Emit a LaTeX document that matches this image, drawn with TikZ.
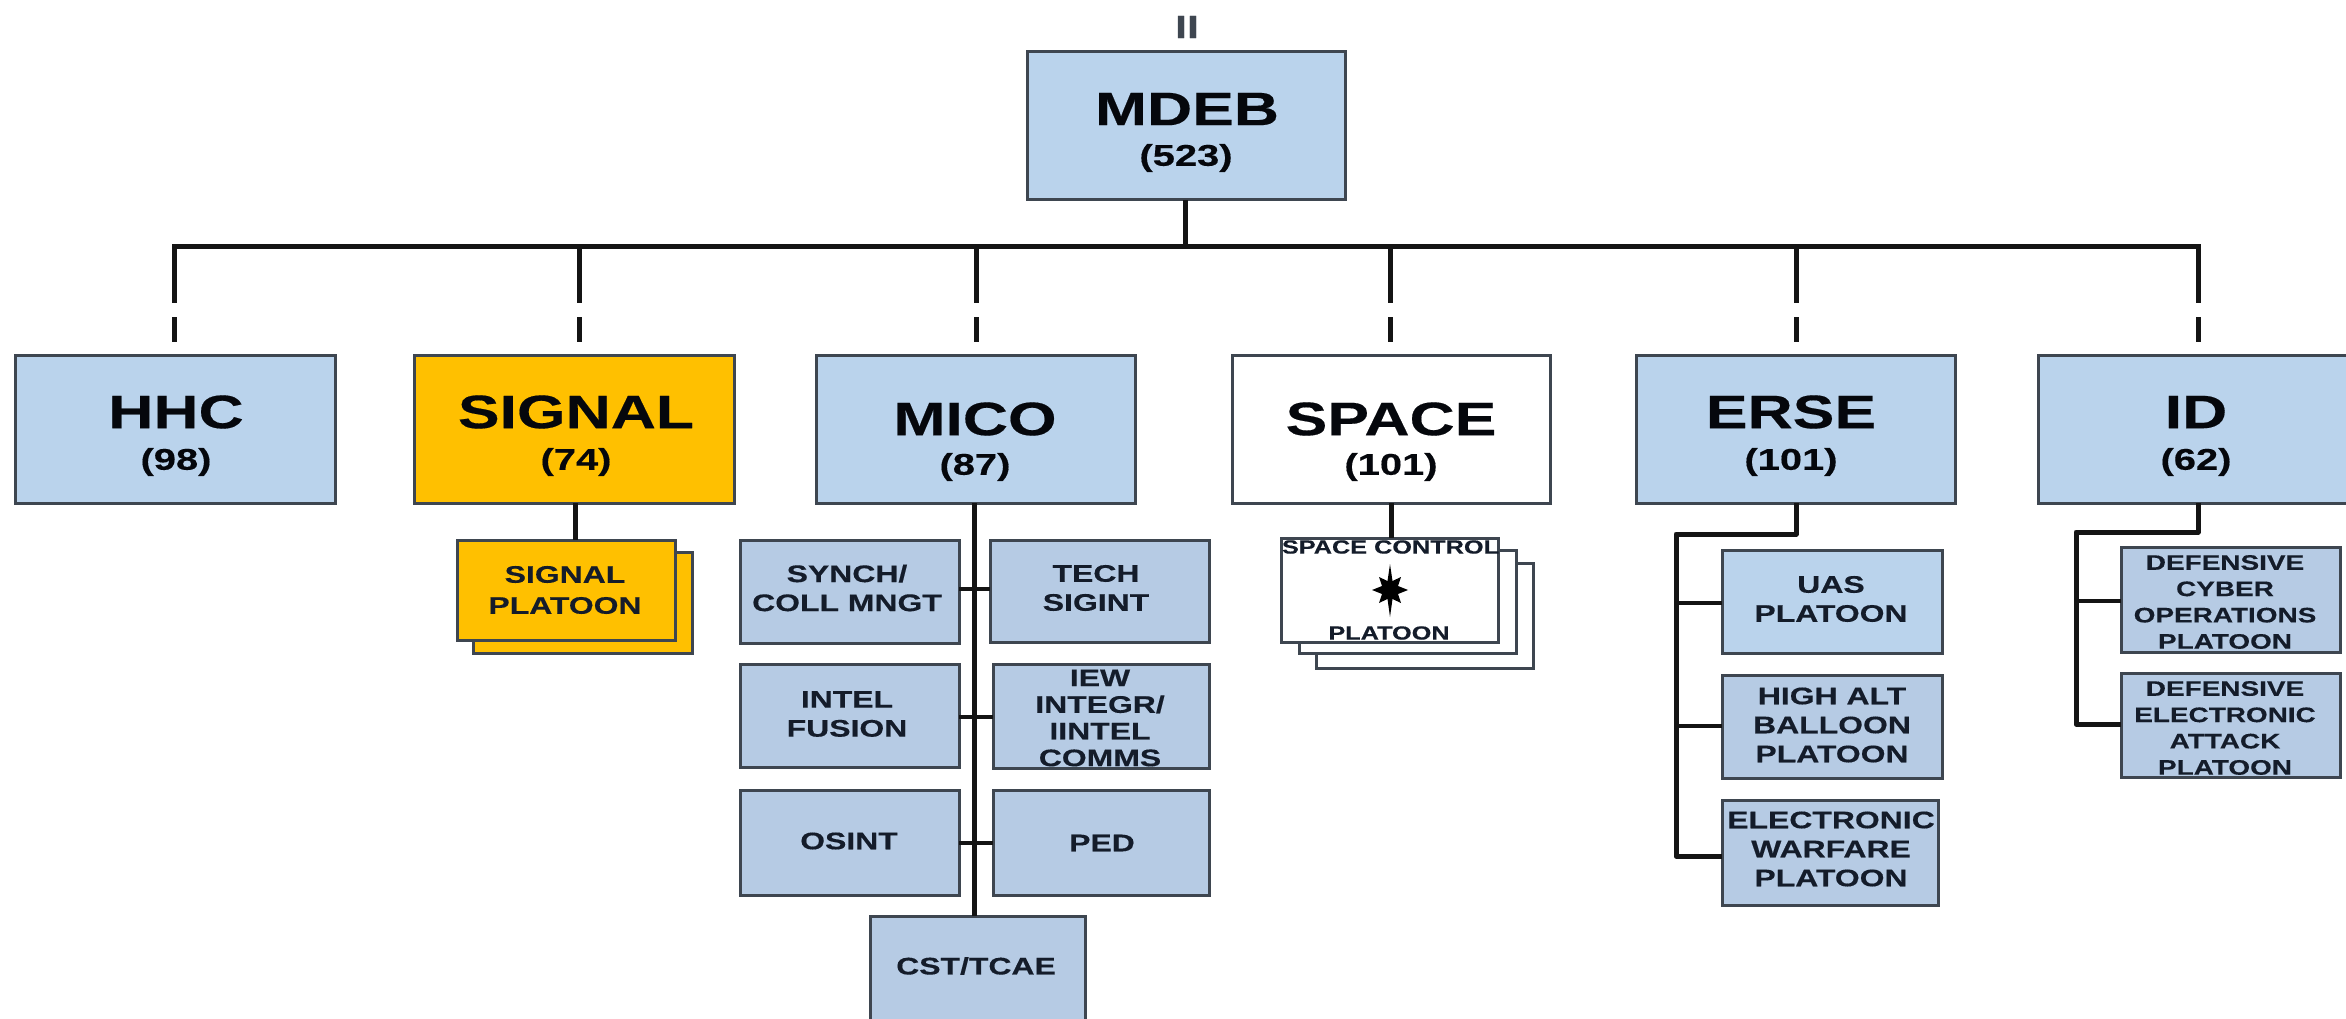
\documentclass[tikz,border=0pt]{standalone}
\usepackage{fontspec}
\newfontfamily\lab[FakeStretch=1.33,FakeBold=0.35]{Liberation Sans}
\definecolor{topblue}{HTML}{BAD3EC}
\definecolor{subblue}{HTML}{B6CBE4}
\definecolor{gold}{HTML}{FFC000}
\definecolor{edge}{HTML}{3E4650}
\definecolor{ink}{HTML}{05070C}
\definecolor{subink}{HTML}{141C2A}
\definecolor{wire}{HTML}{141414}
\tikzset{
  unit/.style={draw=edge,line width=3pt,fill=topblue,inner sep=0pt,outer sep=0pt},
  subunit/.style={unit,fill=subblue},
  lightsub/.style={unit},
  goldunit/.style={unit,fill=gold},
  whiteunit/.style={unit,fill=white},
  big/.style={font=\lab\bfseries\fontsize{47}{50}\selectfont,text=ink,inner sep=0pt},
  num/.style={font=\lab\bfseries\fontsize{30}{34}\selectfont,text=ink,inner sep=0pt},
  small/.style={font=\lab\bfseries\fontsize{24}{29}\selectfont,text=subink,inner sep=0pt,align=center},
  tiny/.style={font=\lab\bfseries\fontsize{21}{26.3}\selectfont,text=subink,inner sep=0pt,align=center},
  micro/.style={font=\lab\bfseries\fontsize{19}{22}\selectfont,text=subink,inner sep=0pt,align=center},
  wirebar/.style={draw=wire,line width=5pt},
  wirethin/.style={draw=wire,line width=4pt},
  dropline/.style={draw=wire,line width=5pt,dash pattern=on 56pt off 14pt on 25pt off 13pt},
}
% name, style, x1, y1, x2, y2
\newcommand{\bx}[6]{\node[#2,minimum width={(#5-#3)*1pt},minimum height={(#6-#4)*1pt}] (#1) at ({(#3+#5)/2},{(#4+#6)/2}) {};}
\begin{document}
\begin{tikzpicture}[x=1pt,y=-1pt]
\path[use as bounding box,clip] (0,0) rectangle (2346,1019);
\fill[white] (0,0) rectangle (2346,1019);
% echelon mark
\node[font=\lab\bfseries\fontsize{32}{34}\selectfont,text=edge,inner sep=0pt] (ech) at (1187,27) {II};
% top level
\bx{mdeb}{unit}{1027}{52}{1345}{200}
\bx{hhc}{unit}{15}{355}{335}{503}
\bx{signal}{goldunit}{414}{355}{734}{503}
\bx{mico}{unit}{816}{355}{1135}{503}
\bx{space}{whiteunit}{1232}{355}{1550}{503}
\bx{erse}{unit}{1636}{355}{1955}{503}
\bx{idb}{unit}{2038}{355}{2358}{503}
% bus
\coordinate (stem) at (1185,247);
\coordinate (busl) at (174,247);
\coordinate (busr) at (2198,247);
\coordinate (sigtop) at (579,355);
\coordinate (erstop) at (1796,355);
\coordinate (idtop) at (2198,355);
\coordinate (hhctop) at (174,355);
\coordinate (micotop) at (976,355);
\coordinate (spacetop) at (1390,355);
\draw[wirebar] (mdeb.south -| stem) -- (stem);
\foreach \t in {hhctop,sigtop,micotop,spacetop,erstop,idtop}{
  \draw[dropline] (busl -| \t) -- (\t);
}
\draw[wirebar,line cap=rect] (busl) -- (busr);
% signal platoon
\bx{sigback}{goldunit}{473}{552}{692}{653}
\bx{sigplt}{goldunit}{457}{540}{675}{640}
\draw[wirebar] (signal.south -| 575,0) -- (sigplt.north -| 575,0);
% mico
\coordinate (mspine) at (974.5,503);
\coordinate (mr1) at (974.5,589);
\coordinate (mr2) at (974.5,717);
\coordinate (mr3) at (974.5,843);
\bx{cst}{subunit}{870}{916}{1085}{1040}
\draw[wirebar] (mspine) -- (mspine |- cst.north);
\bx{synch}{subunit}{740}{540}{959}{643}
\bx{tech}{subunit}{990}{540}{1209}{642}
\bx{fusion}{subunit}{740}{664}{959}{767}
\bx{iew}{subunit}{993}{664}{1209}{768}
\bx{osint}{subunit}{740}{790}{959}{895}
\bx{ped}{subunit}{993}{790}{1209}{895}
\draw[wirethin] (synch.east |- mr1) -- (tech.west |- mr1);
\draw[wirethin] (fusion.east |- mr2) -- (iew.west |- mr2);
\draw[wirethin] (osint.east |- mr3) -- (ped.west |- mr3);
% space
\bx{sp3}{whiteunit}{1316}{563}{1533}{668}
\bx{sp2}{whiteunit}{1299}{550}{1516}{653}
\bx{sp1}{whiteunit}{1281.5}{538}{1498.5}{642}
\draw[wirebar] (space.south -| 1391,0) -- (sp1.north -| 1391,0);
\fill[black] (1390,564) -- (1392.5,581) -- (1401,577) -- (1398,586) -- (1408,590) -- (1398,594) -- (1401,603) -- (1392.5,599) -- (1390,617) -- (1387.5,599) -- (1379,603) -- (1382,594) -- (1372,590) -- (1382,586) -- (1379,577) -- (1387.5,581) -- cycle;
% erse
\bx{uas}{lightsub}{1722}{550}{1942}{653}
\bx{hab}{subunit}{1722}{675}{1942}{778}
\bx{ewp}{subunit}{1722}{800}{1938}{905}
\coordinate (ecorner) at (1676,534);
\coordinate (ej1) at (1676,603);
\coordinate (ej2) at (1676,726);
\coordinate (ej3) at (1676,856);
\draw[wirebar,line join=round] (erse.south -| 1796,0) -- (1796,534) -- (ecorner) -- (ej3) -- (ewp.west |- ej3);
\draw[wirethin] (ej1) -- (uas.west |- ej1);
\draw[wirethin] (ej2) -- (hab.west |- ej2);
% id
\bx{dcy}{subunit}{2121}{547}{2340}{652}
\bx{dea}{subunit}{2121}{673}{2340}{777}
\coordinate (icorner) at (2076,532);
\coordinate (ij1) at (2076,601);
\coordinate (ij2) at (2076,724);
\draw[wirebar,line join=round] (idb.south -| 2198,0) -- (2198,532) -- (icorner) -- (ij2) -- (dea.west |- ij2);
\draw[wirethin] (ij1) -- (dcy.west |- ij1);
% big labels
\node[big] (tm) at (1187,109) {MDEB};
\node[num] (nm) at (1186,158) {(523)};
\node[big] (th) at (176,412) {HHC};
\node[num] (nh) at (176,462) {(98)};
\node[big] (ts) at (576,412) {SIGNAL};
\node[num] (ns) at (576,462) {(74)};
\node[big] (tc) at (975,419) {MICO};
\node[num] (nc) at (975,467) {(87)};
\node[big] (tp) at (1391,419) {SPACE};
\node[num] (np) at (1391,467) {(101)};
\node[big] (te) at (1791,412) {ERSE};
\node[num] (ne) at (1791,462) {(101)};
\node[big] (ti) at (2196,412) {ID};
\node[num] (ni) at (2196,462) {(62)};
% sub labels
\node[small] (l1) at (565,590) {SIGNAL\\[2pt]PLATOON};
\node[small] (l2) at (847,588) {SYNCH/\\COLL MNGT};
\node[small] (l3) at (1096,588) {TECH\\SIGINT};
\node[small] (l4) at (847,714) {INTEL\\FUSION};
\node[small,font=\lab\bfseries\fontsize{24}{26.7}\selectfont] (l5) at (1100,718) {IEW\\INTEGR/\\IINTEL\\COMMS};
\node[small] (l6) at (849,841) {OSINT};
\node[small] (l7) at (1102,843) {PED};
\node[small] (l8) at (976,966) {CST/TCAE};
\node[micro] (l9) at (1390.5,547) {SPACE CONTROL};
\node[micro] (l10) at (1389,633) {PLATOON};
\node[small] (l11) at (1831,599) {UAS\\PLATOON};
\node[small] (l12) at (1832,725) {HIGH ALT\\BALLOON\\PLATOON};
\node[small] (l13) at (1831,849) {ELECTRONIC\\WARFARE\\PLATOON};
\node[tiny] (l14) at (2225,602) {DEFENSIVE\\CYBER\\OPERATIONS\\PLATOON};
\node[tiny] (l15) at (2225,728) {DEFENSIVE\\ELECTRONIC\\ATTACK\\PLATOON};
\end{tikzpicture}
\end{document}
